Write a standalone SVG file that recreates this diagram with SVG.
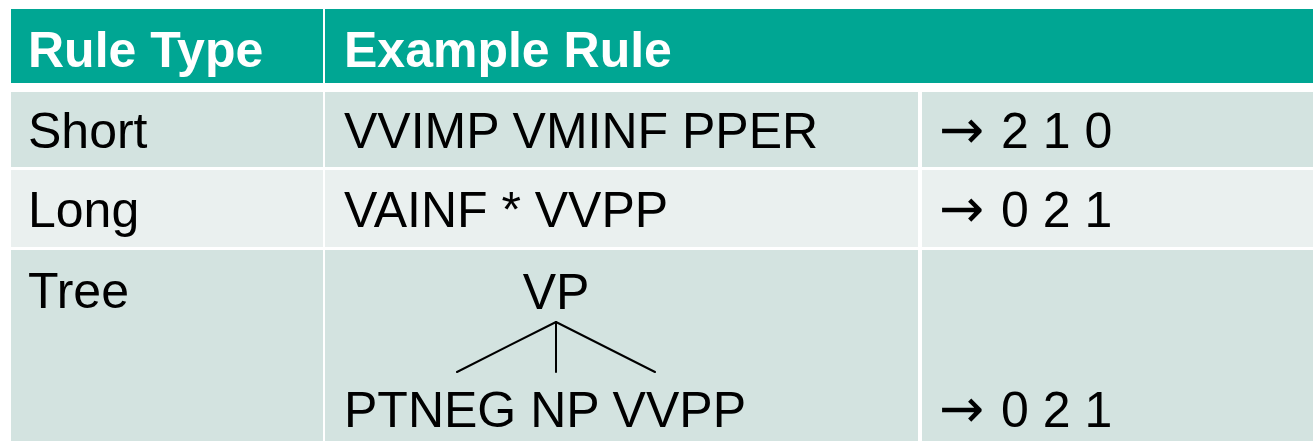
<svg xmlns="http://www.w3.org/2000/svg" width="1313" height="441" viewBox="0 0 1313 441">
<style>
.t{font-family:"Liberation Sans",Arial,sans-serif;font-size:50px;fill:#000}
.h{font-family:"Liberation Sans",Arial,sans-serif;font-size:50px;font-weight:bold;fill:#fff}
.ar{font-family:"DejaVu Sans",sans-serif;font-size:54px}
.hdr{fill:#00A693}
.b1{fill:#D3E3E0}
.b2{fill:#EAF0EF}
.edge{stroke:#000;stroke-width:2;fill:none;stroke-linecap:round}
</style>
<rect x="0" y="0" width="1313" height="441" fill="#fff"/>
<g id="header">
<rect class="hdr" x="11" y="9" width="312" height="74"/>
<rect class="hdr" x="325" y="9" width="988" height="74"/>
<text class="h" x="28" y="67">Rule Type</text>
<text class="h" x="344" y="67">Example Rule</text>
</g>
<g id="row-short">
<rect class="b1" x="11" y="92" width="312" height="75"/>
<rect class="b1" x="325" y="92" width="593" height="75"/>
<rect class="b1" x="922" y="92" width="391" height="75"/>
<text class="t" x="28" y="148">Short</text>
<text class="t" x="344" y="148">VVIMP VMINF PPER</text>
<text class="t" x="939" y="148"><tspan class="ar">→</tspan><tspan x="1001">2 1 0</tspan></text>
</g>
<g id="row-long">
<rect class="b2" x="11" y="170" width="312" height="77"/>
<rect class="b2" x="325" y="170" width="593" height="77"/>
<rect class="b2" x="922" y="170" width="391" height="77"/>
<text class="t" x="28" y="227">Long</text>
<text class="t" x="344" y="227">VAINF * VVPP</text>
<text class="t" x="939" y="227"><tspan class="ar">→</tspan><tspan x="1001">0 2 1</tspan></text>
</g>
<g id="row-tree">
<rect class="b1" x="11" y="250" width="312" height="191"/>
<rect class="b1" x="325" y="250" width="593" height="191"/>
<rect class="b1" x="922" y="250" width="391" height="191"/>
<text class="t" x="28" y="308">Tree</text>
<text class="t" x="556" y="309" text-anchor="middle">VP</text>
<text class="t" x="344" y="427">PTNEG NP VVPP</text>
<text class="t" x="939" y="427"><tspan class="ar">→</tspan><tspan x="1001">0 2 1</tspan></text>
</g>
<g id="connectors">
<line class="edge" x1="556" y1="322" x2="457" y2="372"/>
<line class="edge" x1="556" y1="322" x2="556" y2="372"/>
<line class="edge" x1="556" y1="322" x2="655" y2="372"/>
</g>
</svg>
